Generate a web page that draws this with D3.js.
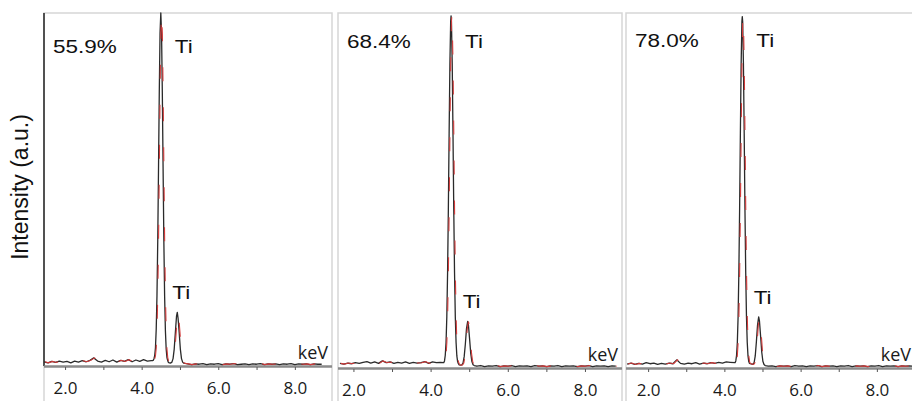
<!DOCTYPE html>
<html>
<head>
<meta charset="utf-8">
<script src="https://cdn.jsdelivr.net/npm/d3@7"></script>
<style>
  html, body { margin: 0; padding: 0; background: #fff; }
  svg { display: block; }
</style>
</head>
<body>
<div id="chart"></div>
<script>
// EDS spectra of three samples, Ti K-alpha / K-beta peaks.
// Intensity is in arbitrary units, main peak ~100.

const sampleLabels = ["55.9%", "68.4%", "78.0%"];
const peakLabel = "Ti";
const xTicks = [2, 4, 6, 8];
const xMinorTicks = [2, 3, 4, 5, 6, 7, 8];
const kAlphaE = [4.50, 4.53, 4.47];
const kBetaE = [4.93, 4.96, 4.90];
const kBetaI = [15.2, 13.1, 14.4];
const xDomains = [[1.45, 8.97], [1.60, 8.96], [1.42, 9.0]];

// [keV, counts]
const spec1 = [
  [1.45,1.2],[1.55,0.9],[1.65,1.3],[1.75,1.0],[1.85,1.4],[1.95,1.1],[2.05,1.3],[2.15,0.9],[2.25,1.4],[2.35,1.1],
  [2.45,1.5],[2.55,1.2],[2.65,1.6],[2.75,2.3],[2.85,1.4],[2.95,1.1],[3.05,1.6],[3.15,1.2],[3.25,1.7],[3.35,1.1],
  [3.45,1.6],[3.55,1.3],[3.65,1.8],[3.75,1.2],[3.85,1.7],[3.95,1.3],[4.05,1.8],[4.15,1.4],[4.25,1.5],
  [4.28,1.5],[4.30,1.6],[4.32,2.0],[4.34,2.9],[4.36,5.1],[4.38,10.4],[4.40,20.0],[4.42,35.4],[4.44,55.9],[4.46,77.5],
  [4.48,94.4],[4.50,100],[4.52,93.9],[4.54,77.0],[4.56,55.5],[4.58,35.0],[4.60,19.6],[4.62,10.0],[4.64,4.8],[4.66,2.4],
  [4.68,1.5],[4.70,1.0],[4.72,0.9],
  [4.76,0.85],[4.79,1.1],[4.82,2.1],[4.85,4.8],[4.88,9.5],[4.91,14.1],[4.93,15.2],[4.95,13.6],[4.98,9.5],[5.01,4.8],
  [5.04,2.1],[5.07,1.1],[5.10,0.8],
  [5.2,0.6],[5.3,0.4],[5.4,0.6],[5.5,0.5],[5.6,0.7],[5.7,0.4],[5.8,0.6],[5.9,0.5],[6.0,0.7],[6.1,0.4],
  [6.2,0.6],[6.3,0.5],[6.4,0.7],[6.5,0.4],[6.6,0.5],[6.7,0.6],[6.8,0.4],[6.9,0.6],[7.0,0.5],[7.1,0.7],
  [7.2,0.4],[7.3,0.6],[7.4,0.5],[7.5,0.6],[7.6,0.4],[7.7,0.6],[7.8,0.5],[7.9,0.7],[8.0,0.4],[8.1,0.6],
  [8.2,0.5],[8.3,0.6],[8.4,0.4],[8.5,0.6],[8.6,0.5],[8.7,0.5]
];

const spec2 = [
  [1.65,1.3],[1.75,1.1],[1.85,1.4],[1.95,1.2],[2.05,1.5],[2.15,1.3],[2.25,1.6],[2.35,1.8],[2.45,1.4],[2.55,1.7],
  [2.65,1.3],[2.75,2.0],[2.85,1.5],[2.95,1.7],[3.05,1.3],[3.15,1.6],[3.25,1.4],[3.35,1.7],[3.45,1.3],[3.55,1.6],
  [3.65,1.4],[3.75,1.5],[3.85,1.8],[3.95,1.3],[4.05,1.7],[4.15,1.5],[4.25,1.6],
  [4.34,1.5],[4.36,2.0],[4.38,3.6],[4.40,7.2],[4.42,14.4],[4.44,26.9],[4.46,44.8],[4.48,66.1],[4.50,85.7],[4.52,97.6],
  [4.53,99.2],[4.54,97.6],[4.56,85.7],[4.58,66.1],[4.60,44.8],[4.62,26.9],[4.64,14.4],[4.66,7.2],[4.68,3.4],[4.70,1.8],
  [4.72,1.2],[4.74,0.9],
  [4.78,0.8],[4.81,0.9],[4.84,1.4],[4.87,3.2],[4.90,6.7],[4.93,11.1],[4.96,13.1],[4.98,12.1],[5.01,8.2],[5.04,4.1],
  [5.07,1.8],[5.10,0.9],[5.13,0.7],
  [5.2,0.5],[5.3,0.7],[5.4,0.4],[5.5,0.6],[5.6,0.5],[5.7,0.7],[5.8,0.4],[5.9,0.6],[6.0,0.5],[6.1,0.7],
  [6.2,0.4],[6.3,0.6],[6.4,0.5],[6.5,0.6],[6.6,0.4],[6.7,0.7],[6.8,0.5],[6.9,0.6],[7.0,0.4],[7.1,0.6],
  [7.2,0.5],[7.3,0.7],[7.4,0.4],[7.5,0.6],[7.6,0.5],[7.7,0.6],[7.8,0.4],[7.9,0.6],[8.0,0.5],[8.1,0.7],
  [8.2,0.4],[8.3,0.6],[8.4,0.5],[8.5,0.6],[8.6,0.4],[8.7,0.6],[8.8,0.5]
];

const spec3 = [
  [1.45,1.1],[1.55,1.4],[1.65,1.0],[1.75,1.3],[1.85,1.1],[1.95,1.5],[2.05,1.2],[2.15,1.4],[2.25,1.0],[2.35,1.3],
  [2.45,1.1],[2.55,1.4],[2.65,1.2],[2.75,2.3],[2.85,1.3],[2.95,1.1],[3.05,1.4],[3.15,1.2],[3.25,1.5],[3.35,1.1],
  [3.45,1.4],[3.55,1.2],[3.65,1.5],[3.75,1.3],[3.85,1.6],[3.95,1.4],[4.05,1.7],[4.15,1.6],
  [4.28,1.5],[4.30,2.0],[4.32,3.6],[4.34,7.2],[4.36,14.4],[4.38,26.9],[4.40,44.8],[4.42,66.1],[4.44,85.7],[4.46,97.6],
  [4.47,99.0],[4.48,97.6],[4.50,85.7],[4.52,66.1],[4.54,44.8],[4.56,26.9],[4.58,14.4],[4.60,7.2],[4.62,3.4],[4.64,1.8],
  [4.66,1.3],[4.68,1.2],
  [4.72,1.1],[4.75,1.0],[4.78,1.5],[4.81,3.4],[4.84,7.4],[4.87,12.1],[4.90,14.4],[4.92,13.3],[4.95,9.0],[4.98,4.5],
  [5.01,1.9],[5.04,1.0],[5.07,0.7],
  [5.15,0.5],[5.25,0.6],[5.35,0.4],[5.45,0.6],[5.55,0.5],[5.65,0.6],[5.75,0.4],[5.85,0.7],[5.95,0.5],[6.05,0.6],
  [6.15,0.4],[6.25,0.6],[6.35,0.5],[6.45,0.7],[6.55,0.4],[6.65,0.6],[6.75,0.5],[6.85,0.6],[6.95,0.4],[7.05,0.6],
  [7.15,0.5],[7.25,0.7],[7.35,0.4],[7.45,0.6],[7.55,0.5],[7.65,0.6],[7.75,0.4],[7.85,0.6],[7.95,0.5],[8.05,0.7],
  [8.15,0.4],[8.25,0.6],[8.35,0.5],[8.45,0.6],[8.55,0.4],[8.65,0.6],[8.75,0.5],[8.85,0.6],[8.95,0.5]
];

const spectra = [spec1, spec2, spec3];

// panel boxes in pixels
const panels = [
  { left: 44,  right: 332, axisY: 366, labelY: 53, blackAxis: true },
  { left: 338, right: 622, axisY: 368, labelY: 48, blackAxis: false },
  { left: 626, right: 915, axisY: 368, labelY: 47, blackAxis: false }
];
const frameTop = 13;

const W = 912, H = 401;
const svg = d3.select("#chart").append("svg")
  .attr("width", W).attr("height", H)
  .style("font-family", "'Liberation Sans', Arial, sans-serif");

// y axis title
svg.append("text")
  .attr("transform", "translate(28,187) rotate(-90)")
  .attr("text-anchor", "middle")
  .attr("font-size", "23px")
  .attr("fill", "#111")
  .text("Intensity (a.u.)");

panels.forEach((p, i) => {
  const x = d3.scaleLinear().domain(xDomains[i]).range([p.left, p.right]);
  const y = d3.scaleLinear().domain([0, 100]).range([p.axisY, frameTop]);
  const g = svg.append("g");

  // light frame
  g.append("rect")
    .attr("x", p.left).attr("y", frameTop)
    .attr("width", p.right - p.left).attr("height", H + 10 - frameTop)
    .attr("fill", "none").attr("stroke", "#d6d6d6").attr("stroke-width", 1.5);

  if (p.blackAxis) {
    g.append("line")
      .attr("x1", p.left).attr("x2", p.left)
      .attr("y1", frameTop).attr("y2", p.axisY)
      .attr("stroke", "#222").attr("stroke-width", 1.5);
  }

  // x axis band + minor ticks
  g.append("line")
    .attr("x1", p.left).attr("x2", p.right)
    .attr("y1", p.axisY + 0.5).attr("y2", p.axisY + 0.5)
    .attr("stroke", "#8a8a8a").attr("stroke-width", 2.5);

  const minor = g.append("g")
    .attr("transform", `translate(0,${p.axisY + 1})`)
    .call(d3.axisBottom(x).tickValues(xMinorTicks).tickSize(3).tickFormat(""));
  minor.select(".domain").remove();
  minor.selectAll(".tick line").attr("stroke", "#555");

  const major = g.append("g")
    .attr("transform", `translate(0,${p.axisY + 13})`)
    .call(d3.axisBottom(x).tickValues(xTicks).tickSize(0).tickFormat(d3.format(".1f")));
  major.select(".domain").remove();
  major.selectAll(".tick text")
    .attr("font-family", "'Open Sans', sans-serif")
    .attr("font-size", "17px")
    .attr("fill", "#1a1a1a");

  // keV tag
  g.append("text")
    .attr("x", p.right - 4).attr("y", p.axisY - 7)
    .attr("text-anchor", "end")
    .attr("font-family", "'Open Sans', sans-serif")
    .attr("font-size", "18px")
    .attr("fill", "#1a1a1a")
    .text("keV");

  // spectrum (black) and fit overlay (red)
  const line = d3.line().x(d => x(d[0])).y(d => y(d[1]));
  const clipId = "clip" + i;
  svg.append("clipPath").attr("id", clipId)
    .append("rect").attr("x", p.left).attr("y", 0)
    .attr("width", p.right - p.left).attr("height", H);

  g.append("path")
    .datum(spectra[i])
    .attr("clip-path", `url(#${clipId})`)
    .attr("fill", "none")
    .attr("stroke", "#2a2a2a")
    .attr("stroke-width", 1.3)
    .attr("stroke-linejoin", "round")
    .attr("d", line);

  g.append("path")
    .datum(spectra[i])
    .attr("clip-path", `url(#${clipId})`)
    .attr("transform", "translate(0.8,0)")
    .attr("fill", "none")
    .attr("stroke", "#d23a3a")
    .attr("stroke-width", 1.1)
    .attr("stroke-dasharray", "14,26")
    .attr("d", line);

  // labels
  const lab = (tx, ty, txt) => g.append("text")
    .attr("transform", `translate(${tx},${ty}) scale(1.25,1)`)
    .attr("font-size", "18px")
    .attr("fill", "#111")
    .text(txt);

  lab(p.left + 9, p.labelY, sampleLabels[i]);
  lab(x(kAlphaE[i]) + 14, p.labelY, peakLabel);
  lab(x(kBetaE[i]) - 5, y(kBetaI[i]) - 13, peakLabel);
});
</script>
</body>
</html>
